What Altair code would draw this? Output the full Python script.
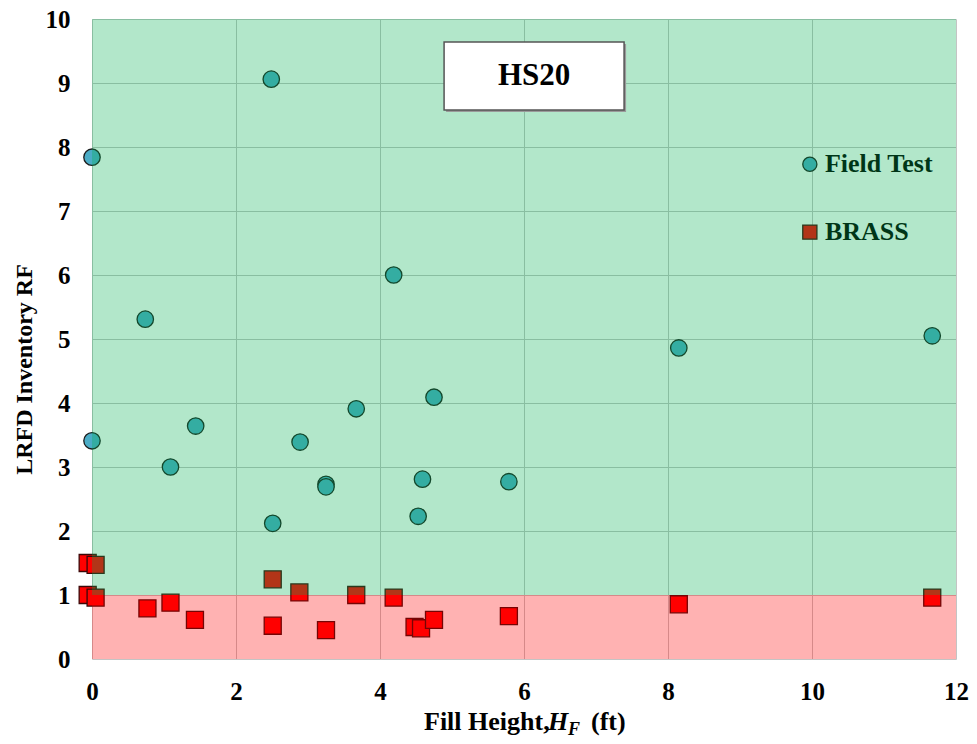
import altair as alt
import pandas as pd

# ---- data ----
field_x = [3.25, 0.00, 0.00, 2.49, 0.74, 1.09, 1.44, 2.89, 2.51, 3.25, 3.67, 4.19, 4.75, 4.59, 4.53, 5.79, 8.15, 11.67]
field_y = [2.73, 7.84, 3.41, 9.06, 5.31, 3.00, 3.64, 3.39, 2.12, 2.69, 3.91, 6.00, 4.09, 2.81, 2.23, 2.77, 4.86, 5.05]

brass_x = [-0.06, 0.05, -0.06, 0.05, 0.77, 1.09, 1.43, 2.51, 2.51, 2.88, 3.25, 3.67, 4.19, 4.48, 4.57, 4.75, 5.79, 8.15, 11.67]
brass_y = [1.50, 1.47, 1.00, 0.96, 0.79, 0.88, 0.61, 1.245, 0.52, 1.04, 0.45, 1.00, 0.96, 0.50, 0.48, 0.61, 0.67, 0.855, 0.96]

x_ticks = [0, 2, 4, 6, 8, 10, 12]
y_ticks = [0, 1, 2, 3, 4, 5, 6, 7, 8, 9, 10]

# background bands (limit RF = 1)
band_x0 = [0, 0]
band_x1 = [12, 12]
band_y0 = [1, 0]
band_y1 = [10, 1]
band_color = ["#00B050", "#FF0000"]

# legend (drawn inside plot area)
legend_labels = ["Field Test", "BRASS"]
legend_x = [9.97, 9.97]
legend_y = [7.73, 6.67]
legend_text_x = [10.18, 10.18]

# annotation box
box_label = ["HS20"]
box_x0 = [4.89]
box_x1 = [7.39]
box_y0 = [8.58]
box_y1 = [9.64]
box_tx = [6.14]
box_ty = [9.11]

# x-axis title pieces
xtitle_parts = ["Fill Height,", "H", "F", "(ft)"]

FONT = "Liberation Serif"

field = pd.DataFrame({"x": field_x, "y": field_y})
brass = pd.DataFrame({"x": brass_x, "y": brass_y})
bands = pd.DataFrame({"x0": band_x0, "x1": band_x1, "y0": band_y0, "y1": band_y1, "c": band_color})
leg = pd.DataFrame({"label": legend_labels, "x": legend_x, "y": legend_y, "tx": legend_text_x})
box = pd.DataFrame({"label": box_label, "x0": box_x0, "x1": box_x1, "y0": box_y0, "y1": box_y1,
                    "tx": box_tx, "ty": box_ty})

xscale = alt.Scale(domain=[0, 12], nice=False, zero=False)
yscale = alt.Scale(domain=[0, 10], nice=False, zero=False)

xaxis = alt.Axis(values=x_ticks, title=None, grid=True, domain=False, ticks=False,
                 labelFlush=False, labelOverlap=False, labelPadding=20, format="d")
yaxis = alt.Axis(values=y_ticks, title="LRFD Inventory RF", grid=True, domain=False, ticks=False,
                 labelFlush=False, labelOverlap=False, labelPadding=22, format="d",
                 titleFontSize=24, titleX=-68, titleY=350, titleBaseline="middle",
                 titleAngle=-90, titleAlign="center")

base_x = alt.X("x:Q", scale=xscale, axis=xaxis)
base_y = alt.Y("y:Q", scale=yscale, axis=yaxis)

pts_field = alt.Chart(field).mark_point(
    shape="circle", filled=True, size=270, fill="#4BACC6", stroke="#1c1c1c",
    strokeWidth=1.3, opacity=1
).encode(x=base_x, y=base_y)

pts_brass = alt.Chart(brass).mark_point(
    shape="square", filled=True, size=290, fill="#FF0000", stroke="#3a0808",
    strokeWidth=1.3, opacity=1
).encode(x=alt.X("x:Q", scale=xscale), y=alt.Y("y:Q", scale=yscale))

leg_field = alt.Chart(leg[leg.label == "Field Test"]).mark_point(
    shape="circle", filled=True, size=200, fill="#4BACC6", stroke="#1c1c1c", strokeWidth=1.3, opacity=1
).encode(x=alt.X("x:Q", scale=xscale), y=alt.Y("y:Q", scale=yscale))

leg_brass = alt.Chart(leg[leg.label == "BRASS"]).mark_point(
    shape="square", filled=True, size=200, fill="#FF0000", stroke="#3a0808", strokeWidth=1.3, opacity=1
).encode(x=alt.X("x:Q", scale=xscale), y=alt.Y("y:Q", scale=yscale))

leg_text = alt.Chart(leg).mark_text(
    align="left", baseline="middle", font=FONT, fontWeight="bold", fontSize=26, color="#000000"
).encode(x=alt.X("tx:Q", scale=xscale), y=alt.Y("y:Q", scale=yscale), text="label:N")

overlay = alt.Chart(bands).mark_rect(opacity=0.3).encode(
    x=alt.X("x0:Q", scale=xscale), x2="x1:Q",
    y=alt.Y("y0:Q", scale=yscale), y2="y1:Q",
    color=alt.Color("c:N", scale=None),
)

box_shadow = alt.Chart(box).mark_rect(fill="#9a9a9a", xOffset=2, yOffset=2, x2Offset=2, y2Offset=2).encode(
    x=alt.X("x0:Q", scale=xscale), x2="x1:Q",
    y=alt.Y("y0:Q", scale=yscale), y2="y1:Q",
)
box_rect = alt.Chart(box).mark_rect(fill="#FFFFFF", stroke="#555555", strokeWidth=1.5).encode(
    x=alt.X("x0:Q", scale=xscale), x2="x1:Q",
    y=alt.Y("y0:Q", scale=yscale), y2="y1:Q",
)
box_text = alt.Chart(box).mark_text(
    align="center", baseline="middle", font=FONT, fontWeight="bold", fontSize=31, color="#000000"
).encode(x=alt.X("tx:Q", scale=xscale), y=alt.Y("ty:Q", scale=yscale), text="label:N")


def tpart(txt, px, py, size, style):
    return alt.Chart(pd.DataFrame({"t": [txt]})).mark_text(
        align="left", baseline="alphabetic", font=FONT, fontWeight="bold", fontStyle=style,
        fontSize=size, color="#000000"
    ).encode(x=alt.value(px), y=alt.value(py), text="t:N")

t1 = tpart(xtitle_parts[0], 332, 711, 26, "normal")
t2 = tpart(xtitle_parts[1], 456, 711, 26, "italic")
t3 = tpart(xtitle_parts[2], 476, 716, 18, "italic")
t4 = tpart(xtitle_parts[3], 499, 711, 26, "normal")

chart = alt.layer(
    pts_field, pts_brass, leg_field, leg_brass, leg_text, overlay,
    box_shadow, box_rect, box_text, t1, t2, t3, t4
).properties(
    width=864, height=640,
    autosize=alt.AutoSizeParams(type="none"),
    padding={"left": 84, "top": 11, "right": 13, "bottom": 77},
    background="#FFFFFF",
).configure_view(
    stroke=None
).configure_axis(
    labelFont=FONT, labelFontWeight="bold", labelFontSize=25, labelColor="#000000",
    titleFont=FONT, titleFontWeight="bold", titleColor="#000000",
    gridColor="#C4C4C4", gridWidth=1, gridOpacity=1,
)

chart.save("out.html", embed_options={"renderer": "svg", "actions": False})
